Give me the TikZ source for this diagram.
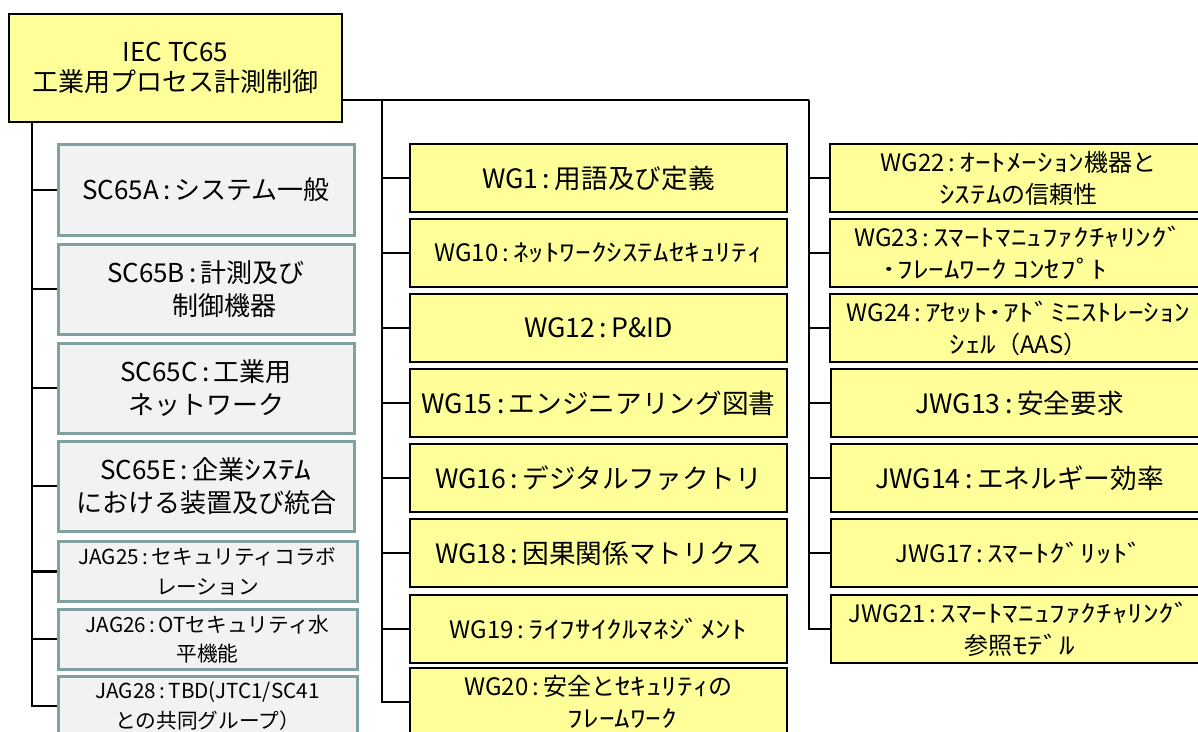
\documentclass[tikz,border=0pt]{standalone}
\usepackage{fontspec}
\setmainfont{Noto Sans CJK JP}
\newfontfamily\hkfont[FakeStretch=1.3]{Noto Sans CJK JP}
\newcommand{\hk}[1]{{\hkfont #1}}
\newcommand{\cl}{\,:\,}
\definecolor{wgyellow}{RGB}{255,255,153}
\definecolor{scgray}{RGB}{242,242,242}
\definecolor{scedge}{RGB}{128,160,162}
\tikzset{
  tcbox/.style={draw=black,line width=1.6pt,fill=wgyellow,minimum width=249.75pt,minimum height=81pt,align=center,font=\fontsize{19.5}{23}\selectfont},
  wgbox/.style={draw=black,line width=1.6pt,fill=wgyellow,minimum width=282.75pt,minimum height=51pt,align=center,inner sep=1pt,font=\fontsize{20}{24}\selectfont},
  wgtwo/.style={wgbox,font=\fontsize{18}{24}\selectfont},
  scbox/.style={draw=scedge,line width=2.25pt,fill=scgray,minimum width=222pt,minimum height=67.5pt,align=center,font=\fontsize{19.5}{25}\selectfont},
  jagbox/.style={scbox,minimum width=224.25pt,minimum height=45pt,inner sep=1pt,font=\fontsize{15.5}{22}\selectfont},
  link/.style={line width=1.6pt}
}
\begin{document}
\begin{tikzpicture}[x=0.75pt,y=-0.75pt]
\useasboundingbox (0,0) rectangle (1198,731);
\clip (0,0) rectangle (1198,731);
\node[tcbox] (tc) at (175.5,68) {IEC TC65\\工業用プロセス計測制御};
\node[scbox] (sca) at (206,190) {SC65A\cl システム一般};
\node[scbox] (scb) at (206,289) {SC65B\cl 計測及び\\\hspace*{1.4em}制御機器};
\node[scbox] (scc) at (206,388) {SC65C\cl 工業用\\ネットワーク};
\node[scbox] (sce) at (206,486) {SC65E\cl 企業\hk{ｼｽﾃﾑ}\\における装置及び統合};
\node[jagbox] (jag25) at (207.5,571.5) {JAG25\cl セキュリティコラボ\\レーション};
\node[jagbox] (jag26) at (207.5,639) {JAG26\cl OTセキュリティ水\\平機能};
\node[jagbox] (jag28) at (207.5,706) {JAG28\cl TBD(JTC1/SC41\\との共同グループ）};
\node[wgbox] (wg1) at (598.5,178) {WG1\cl 用語及び定義};
\node[wgbox,font=\fontsize{18}{24}\selectfont] (wg10) at (598.5,253) {WG10\cl\hk{ﾈｯﾄﾜｰｸｼｽﾃﾑｾｷｭﾘﾃｨ}};
\node[wgbox] (wg12) at (598.5,328) {WG12\cl P\&ID};
\node[wgbox] (wg15) at (598.5,403) {WG15\cl エンジニアリング図書};
\node[wgbox] (wg16) at (598.5,478) {WG16\cl デジタルファクトリ};
\node[wgbox] (wg18) at (598.5,553) {WG18\cl 因果関係マトリクス};
\node[wgbox,font=\fontsize{18}{24}\selectfont] (wg19) at (598.5,629) {WG19\cl\hk{ﾗｲﾌｻｲｸﾙﾏﾈｼﾞﾒﾝﾄ}};
\node[wgtwo] (wg20) at (598.5,702) {WG20\cl 安全と\hk{ｾｷｭﾘﾃｨ}の\\\hspace*{2em}\hk{ﾌﾚｰﾑﾜｰｸ}};
\node[wgtwo] (wg22) at (1018.5,178) {WG22\cl\hk{ｵｰﾄﾒｰｼｮﾝ}機器と\\\hk{ｼｽﾃﾑ}の信頼性};
\node[wgtwo] (wg23) at (1018.5,253) {WG23\cl\hk{ｽﾏｰﾄﾏﾆｭﾌｧｸﾁｬﾘﾝｸﾞ}\\\hk{･ﾌﾚｰﾑﾜｰｸ ｺﾝｾﾌﾟﾄ}\hspace*{2em}};
\node[wgtwo] (wg24) at (1018.5,328) {WG24\cl\hk{ｱｾｯﾄ･ｱﾄﾞﾐﾆｽﾄﾚｰｼｮﾝ}\\\hk{ｼｪﾙ}（AAS）};
\node[wgbox] (jwg13) at (1019.5,403) {JWG13\cl 安全要求};
\node[wgbox] (jwg14) at (1019.5,478) {JWG14\cl エネルギー効率};
\node[wgbox,font=\fontsize{18}{24}\selectfont] (jwg17) at (1019.5,553) {JWG17\cl\hk{ｽﾏｰﾄｸﾞﾘｯﾄﾞ}};
\node[wgtwo] (jwg21) at (1019.5,629) {JWG21\cl\hk{ｽﾏｰﾄﾏﾆｭﾌｧｸﾁｬﾘﾝｸﾞ}\\参照\hk{ﾓﾃﾞﾙ}};
\coordinate (lt) at (32,122);
\coordinate (mt) at (382,100);
\coordinate (rt) at (809,100);
\draw[link] (lt) |- (sca.west);
\draw[link] (lt) |- (scb.west);
\draw[link] (lt) |- (scc.west);
\draw[link] (lt) |- (sce.west);
\draw[link] (lt) |- (jag25.west);
\draw[link] (lt) |- (jag26.west);
\draw[link] (lt) |- (jag28.west);
\draw[link] (tc.east |- mt) -- (rt);
\draw[link] (mt) |- (wg1.west);
\draw[link] (mt) |- (wg10.west);
\draw[link] (mt) |- (wg12.west);
\draw[link] (mt) |- (wg15.west);
\draw[link] (mt) |- (wg16.west);
\draw[link] (mt) |- (wg18.west);
\draw[link] (mt) |- (wg19.west);
\draw[link] (mt) |- (wg20.west);
\draw[link] (rt) |- (wg22.west);
\draw[link] (rt) |- (wg23.west);
\draw[link] (rt) |- (wg24.west);
\draw[link] (rt) |- (jwg13.west);
\draw[link] (rt) |- (jwg14.west);
\draw[link] (rt) |- (jwg17.west);
\draw[link] (rt) |- (jwg21.west);
\end{tikzpicture}
\end{document}
